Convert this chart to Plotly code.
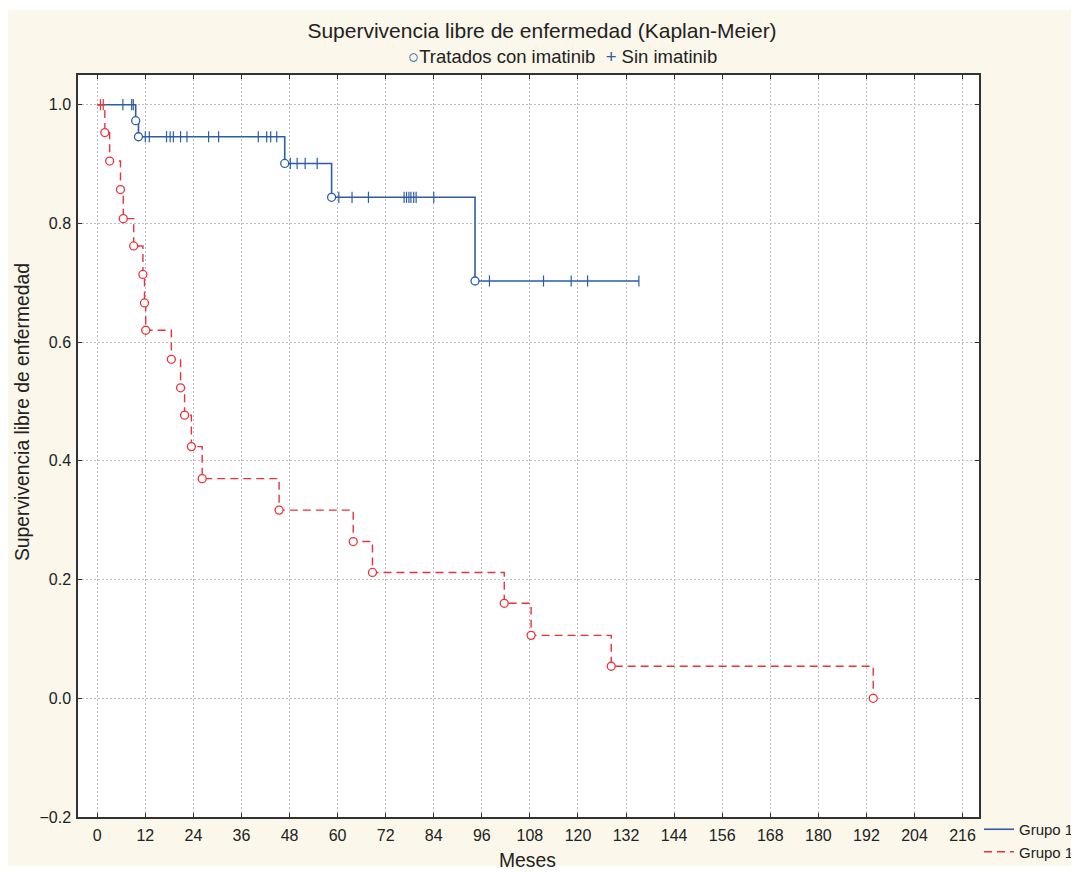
import plotly.graph_objects as go

# ---------------- data ----------------
blue_event_t = [0, 9.6, 10.3, 46.8, 58.5, 94.3]
blue_event_s = [1.0, 0.973, 0.946, 0.901, 0.844, 0.703]
blue_end_t = 135.2

blue_cens_t = [6.4, 8.6, 9.0,
               12.0, 13.0, 17.3, 18.2, 19.0, 20.8, 22.4, 27.8, 30.3, 40.2, 42.3, 43.3, 44.8,
               48.2, 49.9, 51.9, 54.9,
               60.3, 63.6, 67.7, 76.6, 77.2, 77.8, 78.3, 79.0, 79.6, 84.0,
               97.9, 111.4, 118.3, 122.4, 135.2]
blue_cens_s = [1.0] * 3 + [0.946] * 13 + [0.901] * 4 + [0.844] * 10 + [0.703] * 5

red_event_t = [0, 1.9, 3.1, 5.8, 6.5, 9.1, 11.4, 11.8, 12.1, 18.5, 20.8, 21.8, 23.5,
               26.2, 45.4, 63.9, 68.7, 101.6, 108.3, 128.3, 193.7]
red_event_s = [1.0, 0.953, 0.905, 0.857, 0.808, 0.762, 0.714, 0.666, 0.620, 0.571, 0.523,
               0.477, 0.424, 0.370, 0.317, 0.264, 0.212, 0.160, 0.106, 0.054, 0.0]
red_cens_t = [0.8, 1.5]
red_cens_s = [1.0, 1.0]

x_ticks = list(range(0, 217, 12))
y_ticks = [-0.2, 0.0, 0.2, 0.4, 0.6, 0.8, 1.0]

title_text = "Supervivencia libre de enfermedad (Kaplan-Meier)"
series_names = ["Grupo 1", "Grupo 1"]
marker_labels = ["Tratados con imatinib", "Sin imatinib"]
x_title = "Meses"
y_title = "Supervivencia libre de enfermedad"

BLUE = "#2D5DA6"
RED = "#E8333D"
CREAM = "#FBF7EA"
FONT = "Liberation Sans, Arial, sans-serif"

# the page body has an 8px margin, so the figure is sized to fit the window
OFF = 8
W, H = 1079 - OFF, 873 - OFF
PL, PT, PR, PB = 78 - OFF, 75 - OFF, 979 - OFF, 817 - OFF   # plot area in figure px
PW, PH = PR - PL, PB - PT


def px(xp):  # page x pixel -> paper x
    return (xp - OFF - PL) / PW


def py(yp):  # page y pixel -> paper y
    return (PB - (yp - OFF)) / PH


fig = go.Figure()

# step curves
fig.add_trace(go.Scatter(
    x=blue_event_t + [blue_end_t], y=blue_event_s + [blue_event_s[-1]],
    mode="lines", line=dict(color=BLUE, width=1.6, shape="hv"),
    name=series_names[0], showlegend=True, hoverinfo="skip"))
fig.add_trace(go.Scatter(
    x=red_event_t, y=red_event_s,
    mode="lines", line=dict(color=RED, width=1.4, shape="hv", dash="8px,5px"),
    name=series_names[1], showlegend=True, hoverinfo="skip"))

# censor marks
fig.add_trace(go.Scatter(
    x=blue_cens_t, y=blue_cens_s, mode="markers",
    marker=dict(symbol="line-ns-open", size=8, color=BLUE, line=dict(color=BLUE, width=1.2)),
    showlegend=False, hoverinfo="skip"))
fig.add_trace(go.Scatter(
    x=red_cens_t, y=red_cens_s, mode="markers",
    marker=dict(symbol="line-ns-open", size=8, color=RED, line=dict(color=RED, width=1.2)),
    showlegend=False, hoverinfo="skip"))

# event circles
fig.add_trace(go.Scatter(
    x=blue_event_t[1:], y=blue_event_s[1:], mode="markers",
    marker=dict(symbol="circle", size=8, color="white", line=dict(color=BLUE, width=1.3)),
    showlegend=False, hoverinfo="skip"))
fig.add_trace(go.Scatter(
    x=red_event_t[1:], y=red_event_s[1:], mode="markers",
    marker=dict(symbol="circle", size=8, color="white", line=dict(color=RED, width=1.3)),
    showlegend=False, hoverinfo="skip"))

axis_common = dict(
    showline=True, linecolor="#333333", linewidth=1.5, mirror="ticks",
    ticks="inside", ticklen=4, tickwidth=1.2, tickcolor="#333333",
    showgrid=True, gridcolor="#BDBDBD", griddash="2px,2px", gridwidth=1,
    zeroline=False, tickfont=dict(family=FONT, size=16, color="#222222"),
)

fig.update_layout(
    width=W, height=H, autosize=False,
    margin=dict(l=PL, r=W - PR, t=PT, b=H - PB, autoexpand=False),
    paper_bgcolor="white", plot_bgcolor="white",
    font=dict(family=FONT, color="#222222"),
    title=dict(text=title_text, x=(542 - OFF) / W, xref="container", xanchor="center",
               y=(H - (31 - OFF)) / H, yref="container", yanchor="middle",
               font=dict(family=FONT, size=21, color="#222222")),
    xaxis=dict(range=[-4.8, 220.1], tickvals=x_ticks, ticklabelstandoff=3, **axis_common),
    yaxis=dict(range=[-0.2, 1.05], tickvals=y_ticks, tickformat=".1f",
               ticklabelstandoff=2, **axis_common),
    showlegend=True,
    legend=dict(x=px(1079), xanchor="right", y=py(813), yanchor="top",
                bgcolor="rgba(0,0,0,0)", font=dict(family=FONT, size=15, color="#222222"),
                tracegroupgap=0, itemclick=False),
    shapes=[
        dict(type="rect", xref="paper", yref="paper", layer="below",
             x0=px(7), x1=px(1075), y0=py(866), y1=py(10),
             fillcolor=CREAM, line=dict(width=0)),
        dict(type="rect", xref="paper", yref="paper", layer="below",
             x0=0, x1=1, y0=0, y1=1, fillcolor="white", line=dict(width=0)),
    ],
    annotations=[
        dict(text=(f'<span style="color:{BLUE}">○</span>{marker_labels[0]}  '
                   f'<span style="color:{BLUE}">+</span> {marker_labels[1]}'),
             xref="paper", yref="paper", x=px(562), y=py(56),
             xanchor="center", yanchor="middle", showarrow=False,
             font=dict(family=FONT, size=18.5, color="#222222")),
        dict(text=y_title, xref="paper", yref="paper",
             x=px(22), y=py(412), textangle=-90,
             xanchor="center", yanchor="middle", showarrow=False,
             font=dict(family=FONT, size=19.3, color="#222222")),
        dict(text=x_title, xref="paper", yref="paper",
             x=px(527), y=py(860),
             xanchor="center", yanchor="middle", showarrow=False,
             font=dict(family=FONT, size=19.3, color="#222222")),
    ],
)

fig.write_html("out.html")
